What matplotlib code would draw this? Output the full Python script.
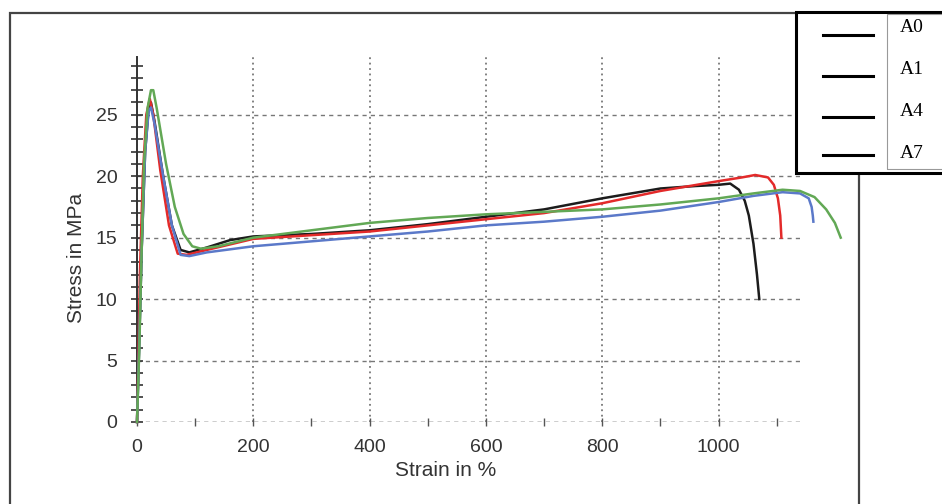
import matplotlib
matplotlib.use('Agg')
import matplotlib.pyplot as plt
from matplotlib.patches import Rectangle
from matplotlib.lines import Line2D
from matplotlib.ticker import MultipleLocator

# stress-strain curves
labels = ['A0', 'A1', 'A4', 'A7']
colors = ['#1c1c1c', '#e32a2a', '#5b79c9', '#62a855']

strain_a0 = [0, 3, 8, 14, 20, 24, 30, 45, 60, 75, 90, 120, 160, 200, 300, 400, 500, 600,
             700, 800, 900, 960, 1000, 1020, 1035, 1045, 1052, 1060, 1066, 1070]
stress_a0 = [0, 5, 14, 22, 25.5, 26.0, 24.5, 20, 16, 14.0, 13.8, 14.2, 14.8, 15.1, 15.3, 15.6,
             16.1, 16.7, 17.3, 18.2, 19.0, 19.2, 19.3, 19.4, 18.9, 18.0, 16.8, 14.5, 12.0, 10.0]

strain_a1 = [0, 2, 5, 10, 16, 22, 28, 40, 55, 70, 85, 120, 200, 300, 400, 500, 600, 700,
             800, 900, 1000, 1040, 1063, 1085, 1095, 1102, 1106, 1108]
stress_a1 = [0, 4, 12, 20, 25, 26.3, 25, 20.5, 16, 13.7, 13.6, 14.0, 14.9, 15.2, 15.5, 16.0,
             16.5, 17.0, 17.8, 18.8, 19.6, 19.9, 20.1, 19.9, 19.3, 18.2, 16.8, 15.0]

strain_a4 = [0, 3, 8, 14, 20, 24, 30, 45, 60, 75, 90, 120, 200, 300, 400, 500, 600, 700,
             800, 900, 1000, 1060, 1110, 1140, 1155, 1160, 1162, 1163]
stress_a4 = [0, 5, 14, 22, 25.3, 25.6, 24.3, 20, 16, 13.6, 13.5, 13.8, 14.3, 14.7, 15.1, 15.5,
             16.0, 16.3, 16.7, 17.2, 17.9, 18.4, 18.7, 18.6, 18.2, 17.5, 16.8, 16.3]

strain_a7 = [0, 4, 8, 12, 18, 24, 28, 34, 50, 65, 80, 95, 110, 140, 200, 300, 400, 500, 600,
             700, 800, 900, 1000, 1060, 1110, 1140, 1165, 1185, 1200, 1210]
stress_a7 = [0, 6, 14, 21, 25.5, 27.0, 27.0, 25.5, 21, 17.5, 15.3, 14.3, 14.1, 14.3, 15.0, 15.6,
             16.2, 16.6, 16.9, 17.1, 17.3, 17.7, 18.2, 18.6, 18.9, 18.8, 18.3, 17.3, 16.2, 15.0]

strains = [strain_a0, strain_a1, strain_a4, strain_a7]
stresses = [stress_a0, stress_a1, stress_a4, stress_a7]

W, H = 942, 504
fig = plt.figure(figsize=(W / 100, H / 100), dpi=100)
ax = fig.add_axes([137 / W, (H - 422) / H, (800 - 137) / W, (422 - 57) / H])

for sx, sy, c in zip(strains, stresses, colors):
    ax.plot(sx, sy, color=c, lw=1.8, clip_on=False, zorder=3)

ax.set_xlim(0, 1140)
ax.set_ylim(0, 29.7)
ax.xaxis.set_major_locator(MultipleLocator(200))
ax.xaxis.set_minor_locator(MultipleLocator(100))
ax.yaxis.set_major_locator(MultipleLocator(5))
ax.yaxis.set_minor_locator(MultipleLocator(1))

for s in ['top', 'right', 'bottom']:
    ax.spines[s].set_visible(False)
ax.spines['left'].set_color('#333333')
ax.spines['left'].set_linewidth(1.4)

ax.grid(axis='x', which='major', color='#777777', ls=(0, (1, 2)), lw=1.3)
ax.grid(axis='y', which='major', color='#777777', ls=(0, (3, 3)), lw=1.0)
ax.axhline(0, color='#777777', ls=(0, (3, 3)), lw=1.0, zorder=1)

ax.tick_params(axis='y', which='both', direction='inout', length=8, width=1.2,
               color='#333333', labelsize=14, pad=10)
ax.tick_params(axis='x', which='both', direction='inout', length=6, width=1.0,
               color='#555555', labelsize=14, pad=9)
for t in ax.get_xticklabels() + ax.get_yticklabels():
    t.set_fontfamily('Liberation Sans')
    t.set_color('#333333')

ax.set_xlabel('Strain in %', fontsize=15, family='Liberation Sans', color='#333333')
ax.set_ylabel('Stress in MPa', fontsize=15, family='Liberation Sans', color='#333333')
ax.yaxis.set_label_coords(-0.077, 0.449)
ax.xaxis.set_label_coords(0.466, -0.107)

# outer frame
fig.add_artist(Rectangle((10 / W, -0.05), (859 - 10) / W, (H - 13) / H + 0.05,
                         transform=fig.transFigure, fill=False, ec='#444444', lw=1.6))

# legend box drawn by hand (black sample lines, labels in a cell)
fig.add_artist(Rectangle((796 / W, (H - 173) / H), 160 / W, 161 / H, transform=fig.transFigure,
                         fc='white', ec='black', lw=2.2, zorder=5))
fig.add_artist(Rectangle((887 / W, (H - 169) / H), 70 / W, 155 / H, transform=fig.transFigure,
                         fill=False, ec='#999999', lw=0.8, zorder=6))
line_rows = [35, 76, 117, 155]
text_rows = [28, 70, 112, 153]
for lab, lr, tr in zip(labels, line_rows, text_rows):
    yy = (H - lr) / H
    fig.add_artist(Line2D([823 / W, 873 / W], [yy, yy], transform=fig.transFigure,
                          color='black', lw=2.2, zorder=7))
    fig.text(900 / W, (H - tr) / H, lab, family='Liberation Serif', fontsize=14,
             va='center', ha='left', zorder=7)

fig.savefig('out.png', dpi=100)
